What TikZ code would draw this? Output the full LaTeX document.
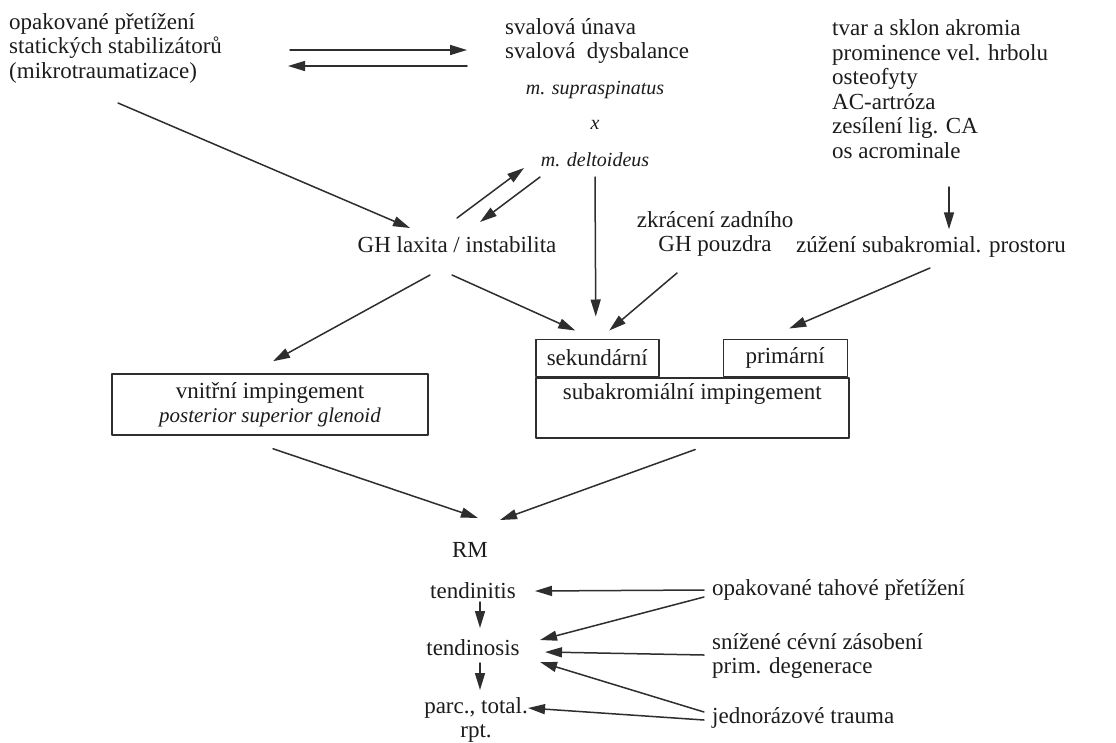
\documentclass[tikz,border=0pt]{standalone}
\usepackage{fontspec}
\setmainfont{Liberation Serif}
\usepackage{tikz}
\usetikzlibrary{arrows.meta,calc,positioning}
\definecolor{rmink}{HTML}{1C1C1C}
\definecolor{rmline}{HTML}{2E2E2E}

\begin{document}
\begin{tikzpicture}[>={Triangle[length=17pt,width=10pt]},line cap=round,line join=round,
  font=\fontsize{23}{24.5}\selectfont,text=rmink,
  txt/.style={inner sep=0pt,align=left},
  ctr/.style={inner sep=0pt,align=center},
  lat/.style={inner sep=0pt,font=\fontsize{20}{22}\selectfont\itshape},
  frame/.style={draw=rmline,line width=1.5pt,inner sep=0pt},
  arr/.style={->,draw=rmline,line width=1.5pt}]
\begin{scope}[x=1pt,y=-1pt]
  \path[use as bounding box] (0,0) rectangle (1116,742);
  \fill[white] (0,0) rectangle (1116,742);
  % 上部：诱因
  \node[txt,anchor=west] (mikro) at (9,48) {opakované přetížení\\statických stabilizátorů\\(mikrotraumatizace)};
  \node[txt,anchor=west] (unava) at (505,41) {svalová únava\\svalová\ \ dysbalance};
  \node[lat] (supra) at (595,90) {m. supraspinatus};
  \node[lat] (xx) at (595,125) {x};
  \node[lat] (delt) at (595,160) {m. deltoideus};
  \node[txt,anchor=west] (akrom) at (832,89) {tvar a sklon akromia\\prominence vel. hrbolu\\osteofyty\\AC-artróza\\zesílení lig. CA\\os acrominale};
  \node[ctr] (glx) at (457,245) {GH laxita / instabilita};
  \node[ctr] (zkrat) at (715,234) {zkrácení zadního\\GH pouzdra};
  \node[ctr] (zuzeni) at (931,247) {zúžení subakromial. prostoru};
  % 两种撞击
  \node[frame,align=center,minimum width=316pt,minimum height=61pt] (vnitr) at (270,404.5)
    {vnitřní impingement\\{\fontsize{21}{22}\selectfont\itshape posterior superior glenoid}};
  \node[frame,anchor=north west,minimum width=313pt,minimum height=60pt] (subak) at (535,377) {};
  \node[ctr] (subaktxt) at ($(subak.north)+(0,17)$) {subakromiální impingement};
  \node[frame,anchor=south west,minimum width=123pt,minimum height=37pt] (sekund) at (535,377) {sekundární};
  \node[frame,anchor=south east,minimum width=124pt,minimum height=37pt] (primar) at (848,377) {primární};
  % 肩袖病变
  \node[ctr] (rm) at (470,550) {RM};
  \node[ctr] (tdt) at (473,591) {tendinitis};
  \node[ctr] (tds) at (473,648) {tendinosis};
  \node[ctr] (rpt) at (476,720) {parc., total.\\rpt.};
  \node[txt,anchor=west] (tah) at (712,590) {opakované tahové přetížení};
  \node[txt,anchor=west] (cev) at (712,656) {snížené cévní zásobení\\prim. degenerace};
  \node[txt,anchor=west] (trauma) at (712,718) {jednorázové trauma};
  % 箭头
  \draw[arr] ($(mikro.west)+(281,2)$) -- ($(unava.west)+(-38,9)$);
  \draw[arr] ($(unava.west)+(-38,25)$) -- ($(mikro.west)+(279,18)$);
  \draw[arr] ($(mikro.west)+(109,55)$) -- ($(glx)+(-47,-17)$);
  \draw[arr] ($(glx)+(0,-27)$) -- ($(delt)+(-71,8)$);
  \draw[arr] ($(delt)+(-55,17)$) -- ($(glx)+(23,-23)$);
  \draw[arr] ($(delt)+(0,17)$) -- ($(sekund.north)+(-1.5,-22)$);
  \draw[arr] ($(glx)+(-27,30)$) -- ($(vnitr.north)+(3,-12)$);
  \draw[arr] ($(glx)+(-5,30)$) -- ($(sekund.north)+(-22,-8)$);
  \draw[arr] ($(zkrat)+(-38,39)$) -- ($(sekund.north)+(12,-8)$);
  \draw[arr] ($(akrom.west)+(117,98)$) -- ($(zuzeni.north)+(18,-7)$);
  \draw[arr] ($(zuzeni)+(-1,21)$) -- ($(primar.north)+(4,-10)$);
  \draw[arr] ($(vnitr.south)+(3,13)$) -- ($(rm)+(8,-32)$);
  \draw[arr] ($(subak.south)+(3,11)$) -- ($(rm)+(30,-30)$);
  \draw[arr] ($(tdt)+(7,11)$) -- ($(tds)+(7,-20)$);
  \draw[arr] ($(tds)+(7,15)$) -- ($(rpt)+(4,-30)$);
  \draw[arr] ($(tah.west)+(-8,0)$) -- ($(tdt)+(62,0)$);
  \draw[arr] ($(tah.west)+(-8,7)$) -- ($(tds)+(67,-8)$);
  \draw[arr] ($(cev.west)+(-8,-1)$) -- ($(tds)+(72,4)$);
  \draw[arr] ($(trauma.west)+(-8,-6)$) -- ($(tds)+(67,14)$);
  \draw[arr] ($(trauma.west)+(-8,2)$) -- ($(rpt)+(52,-12)$);
\end{scope}
\end{tikzpicture}
\end{document}
